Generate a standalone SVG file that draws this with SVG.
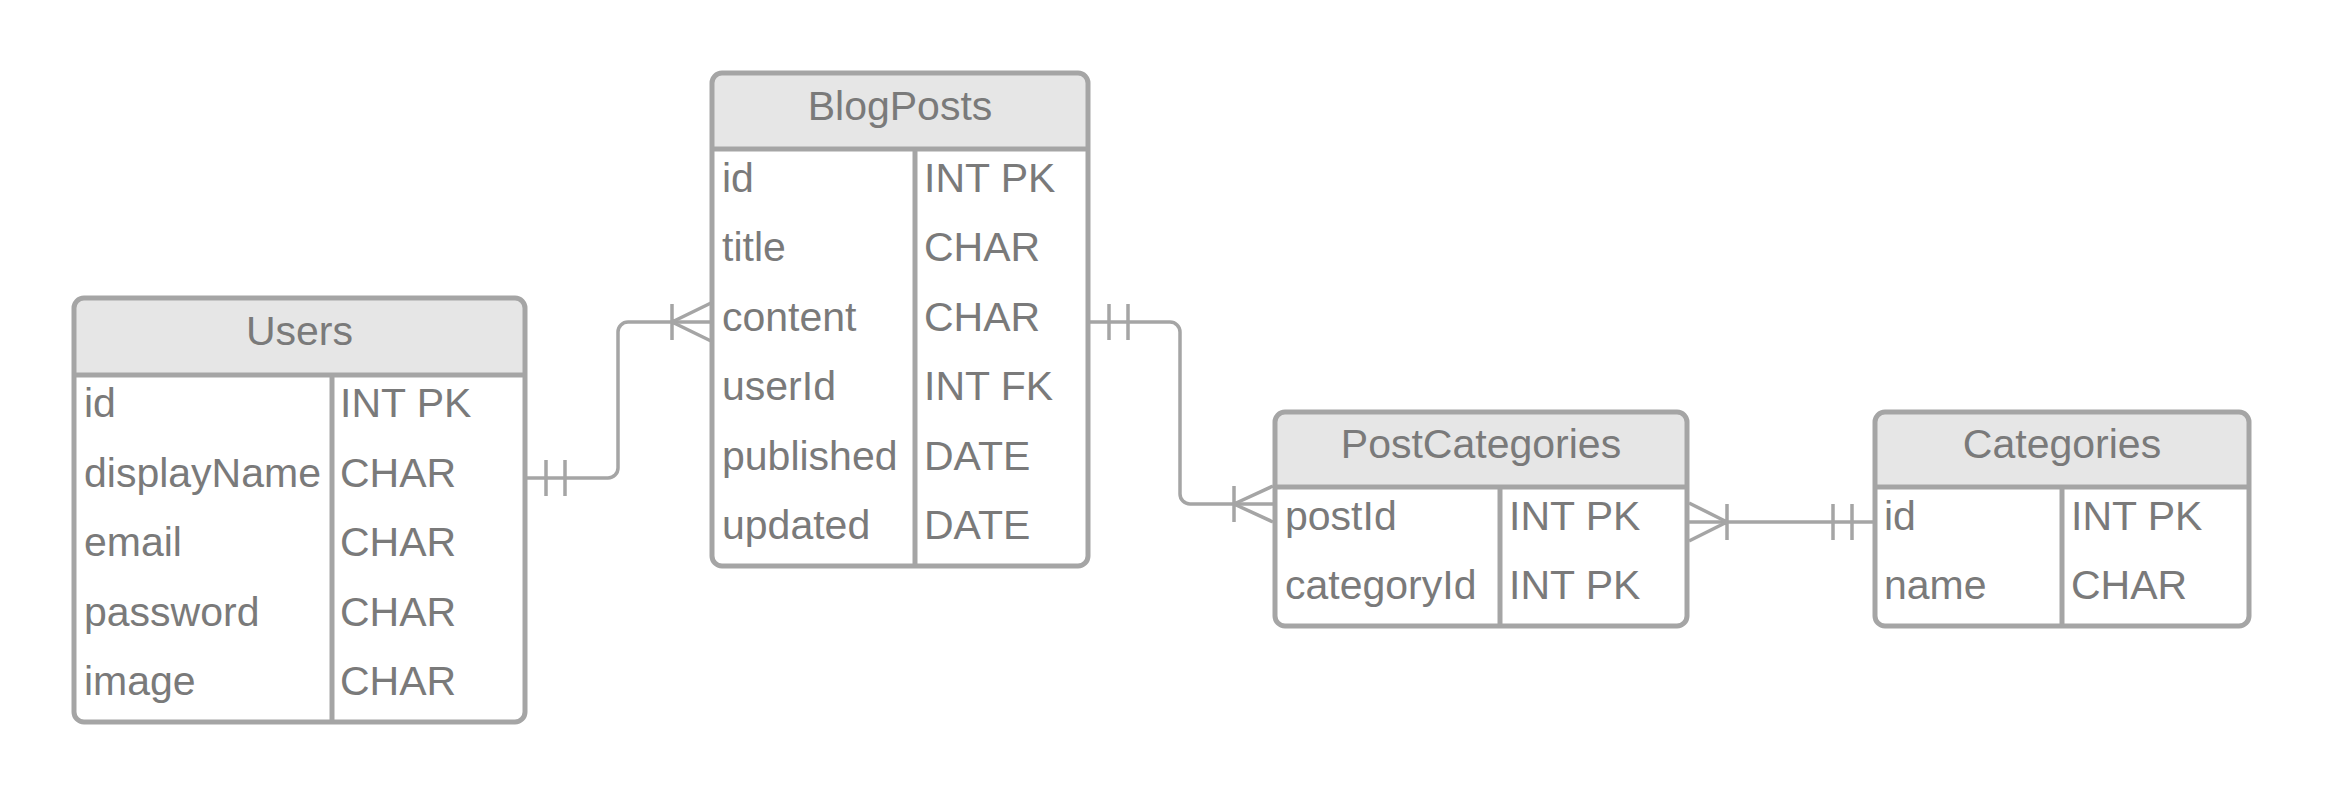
<svg xmlns="http://www.w3.org/2000/svg" width="2325" height="797" viewBox="0 0 2325 797">
<style>
.bg{fill:#ffffff}
.head{fill:#e6e6e6}
.frame{fill:none;stroke:#a5a5a5;stroke-width:5}
.div{stroke:#a5a5a5;stroke-width:5}
.t{font-family:"Liberation Sans",Arial,sans-serif;font-size:41px;fill:#7a7a7a}
.c{text-anchor:middle}
.conn{fill:none;stroke:#a5a5a5;stroke-width:3.5}
</style>
<rect width="2325" height="797" fill="#ffffff"/>
<g id="connectors" class="conn">
  <path d="M525,478 H608 A10,10 0 0 0 618,468 V332 A10,10 0 0 1 628,322 H712"/>
  <path d="M546,460 V496 M565,460 V496"/>
  <path d="M672,304 V340 M672,322 L711,303 M672,322 L711,341"/>
  <path d="M1088,322 H1170 A10,10 0 0 1 1180,332 V494 A10,10 0 0 0 1190,504 H1275"/>
  <path d="M1109,304 V340 M1128,304 V340"/>
  <path d="M1234,486 V522 M1234,504 L1273,486 M1234,504 L1273,522"/>
  <path d="M1687,522 H1875"/>
  <path d="M1727,504 V540 M1727,522 L1689,503 M1727,522 L1689,541"/>
  <path d="M1833,504 V540 M1852,504 V540"/>
</g>
<g id="users">
  <rect class="bg" x="74" y="298" width="451" height="424" rx="10"/>
  <path class="head" d="M74,375 V308 A10,10 0 0 1 84,298 H515 A10,10 0 0 1 525,308 V375 Z"/>
  <line class="div" x1="74" y1="375" x2="525" y2="375"/>
  <line class="div" x1="332" y1="375" x2="332" y2="722"/>
  <rect class="frame" x="74" y="298" width="451" height="424" rx="10"/>
  <text class="t c" x="299.5" y="345">Users</text>
  <text class="t" x="84" y="417">id</text>
  <text class="t" x="84" y="486.5">displayName</text>
  <text class="t" x="84" y="556">email</text>
  <text class="t" x="84" y="625.5">password</text>
  <text class="t" x="84" y="695">image</text>
  <text class="t" x="340" y="417">INT PK</text>
  <text class="t" x="340" y="486.5">CHAR</text>
  <text class="t" x="340" y="556">CHAR</text>
  <text class="t" x="340" y="625.5">CHAR</text>
  <text class="t" x="340" y="695">CHAR</text>
</g>
<g id="blogposts">
  <rect class="bg" x="712" y="73" width="376" height="493" rx="10"/>
  <path class="head" d="M712,149 V83 A10,10 0 0 1 722,73 H1078 A10,10 0 0 1 1088,83 V149 Z"/>
  <line class="div" x1="712" y1="149" x2="1088" y2="149"/>
  <line class="div" x1="915" y1="149" x2="915" y2="566"/>
  <rect class="frame" x="712" y="73" width="376" height="493" rx="10"/>
  <text class="t c" x="900" y="120">BlogPosts</text>
  <text class="t" x="722" y="191.5">id</text>
  <text class="t" x="722" y="261">title</text>
  <text class="t" x="722" y="330.5">content</text>
  <text class="t" x="722" y="400">userId</text>
  <text class="t" x="722" y="469.5">published</text>
  <text class="t" x="722" y="539">updated</text>
  <text class="t" x="924" y="191.5">INT PK</text>
  <text class="t" x="924" y="261">CHAR</text>
  <text class="t" x="924" y="330.5">CHAR</text>
  <text class="t" x="924" y="400">INT FK</text>
  <text class="t" x="924" y="469.5">DATE</text>
  <text class="t" x="924" y="539">DATE</text>
</g>
<g id="postcategories">
  <rect class="bg" x="1275" y="412" width="412" height="214" rx="10"/>
  <path class="head" d="M1275,487 V422 A10,10 0 0 1 1285,412 H1677 A10,10 0 0 1 1687,422 V487 Z"/>
  <line class="div" x1="1275" y1="487" x2="1687" y2="487"/>
  <line class="div" x1="1500" y1="487" x2="1500" y2="626"/>
  <rect class="frame" x="1275" y="412" width="412" height="214" rx="10"/>
  <text class="t c" x="1481" y="458">PostCategories</text>
  <text class="t" x="1285" y="529.5">postId</text>
  <text class="t" x="1285" y="599">categoryId</text>
  <text class="t" x="1509" y="529.5">INT PK</text>
  <text class="t" x="1509" y="599">INT PK</text>
</g>
<g id="categories">
  <rect class="bg" x="1875" y="412" width="374" height="214" rx="10"/>
  <path class="head" d="M1875,487 V422 A10,10 0 0 1 1885,412 H2239 A10,10 0 0 1 2249,422 V487 Z"/>
  <line class="div" x1="1875" y1="487" x2="2249" y2="487"/>
  <line class="div" x1="2062" y1="487" x2="2062" y2="626"/>
  <rect class="frame" x="1875" y="412" width="374" height="214" rx="10"/>
  <text class="t c" x="2062" y="458">Categories</text>
  <text class="t" x="1884" y="529.5">id</text>
  <text class="t" x="1884" y="599">name</text>
  <text class="t" x="2071" y="529.5">INT PK</text>
  <text class="t" x="2071" y="599">CHAR</text>
</g>
</svg>
